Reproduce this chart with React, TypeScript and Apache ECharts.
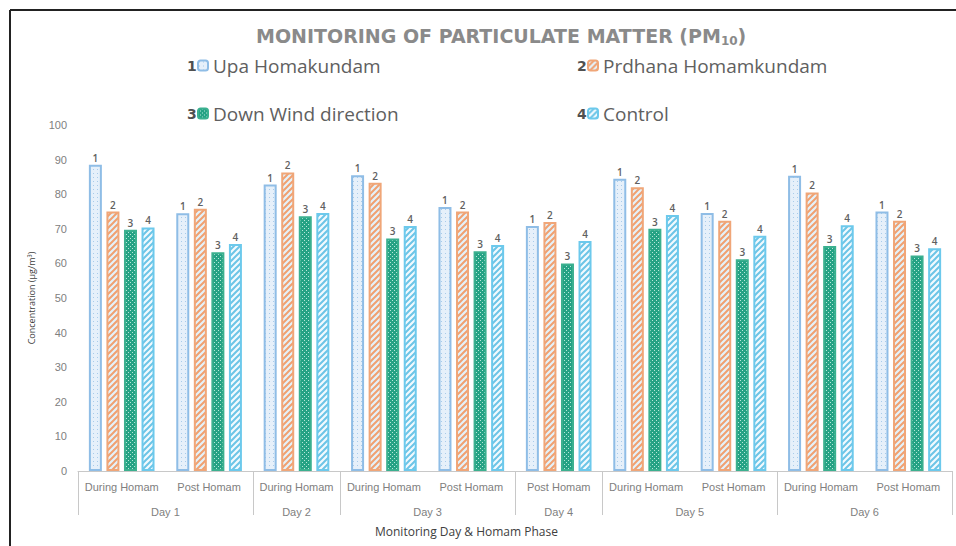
import React, { useEffect, useRef } from "react";
import * as echarts from "echarts";

const phases = [
  "During Homam", "Post Homam",
  "During Homam",
  "During Homam", "Post Homam",
  "Post Homam",
  "During Homam", "Post Homam",
  "During Homam", "Post Homam",
];
const days = ["Day 1", "Day 2", "Day 3", "Day 4", "Day 5", "Day 6"];
const daySizes = [2, 1, 2, 1, 2, 2];

const seriesNames = ["Upa Homakundam", "Prdhana Homamkundam", "Down Wind direction", "Control"];
const upa = [88.5, 74.5, 82.8, 85.5, 76.3, 70.8, 84.5, 74.6, 85.3, 75.0];
const prdhana = [75.0, 75.8, 86.3, 83.3, 75.0, 72.0, 82.0, 72.3, 80.5, 72.3];
const downWind = [69.7, 63.2, 73.6, 67.2, 63.5, 60.0, 70.0, 61.2, 65.0, 62.3];
const control = [70.4, 65.6, 74.6, 70.8, 65.3, 66.5, 74.0, 68.0, 71.0, 64.4];

const yTicks = { min: 0, max: 100, interval: 10 };

function makePattern(w: number, h: number, draw: (ctx: CanvasRenderingContext2D) => void) {
  const c = document.createElement("canvas");
  c.width = w;
  c.height = h;
  const ctx = c.getContext("2d")!;
  draw(ctx);
  return { image: c, repeat: "repeat", imageWidth: w, imageHeight: h } as any;
}

export default function App() {
  const ref = useRef<HTMLDivElement>(null);
  useEffect(() => {
    if (!ref.current) return;
    const chart = echarts.init(ref.current, null, { renderer: "svg" });

    const p1 = makePattern(4, 4, (ctx) => {
      ctx.fillStyle = "#e6f0fa";
      ctx.fillRect(0, 0, 4, 4);
      ctx.fillStyle = "#a8cbea";
      ctx.fillRect(1, 1, 1, 1);
    });
    const p2 = makePattern(6, 6, (ctx) => {
      ctx.fillStyle = "#e4f2fa";
      ctx.fillRect(0, 0, 6, 6);
      ctx.strokeStyle = "#f0a070";
      ctx.lineWidth = 2;
      ctx.beginPath();
      ctx.moveTo(-1, 7); ctx.lineTo(7, -1);
      ctx.moveTo(-1, 1); ctx.lineTo(1, -1);
      ctx.moveTo(5, 7); ctx.lineTo(7, 5);
      ctx.stroke();
    });
    const p3 = makePattern(4, 4, (ctx) => {
      ctx.fillStyle = "#25a284";
      ctx.fillRect(0, 0, 4, 4);
      ctx.fillStyle = "rgba(220,250,240,0.8)";
      ctx.fillRect(0, 0, 1, 1);
      ctx.fillRect(2, 2, 1, 1);
    });
    const p4 = makePattern(6, 6, (ctx) => {
      ctx.fillStyle = "#f2fafe";
      ctx.fillRect(0, 0, 6, 6);
      ctx.strokeStyle = "#6cc4e6";
      ctx.lineWidth = 2;
      ctx.beginPath();
      ctx.moveTo(-1, 7); ctx.lineTo(7, -1);
      ctx.moveTo(-1, 1); ctx.lineTo(1, -1);
      ctx.moveTo(5, 7); ctx.lineTo(7, 5);
      ctx.stroke();
    });

    const patterns = [p1, p2, p3, p4];
    const borders = ["#8fbde6", "#f0a678", "#3bb08f", "#6cc9ec"];
    const values = [upa, prdhana, downWind, control];

    const slots: string[] = new Array(phases.length * 2 + 1).fill("");
    const separators: number[] = [0];
    let pos = 0;
    daySizes.forEach((s, i) => {
      slots[pos + s] = days[i];
      pos += s * 2;
      separators.push(pos);
    });

    const option: any = {
      animation: false,
      backgroundColor: "#ffffff",
      title: {
        text: "{a|MONITORING OF PARTICULATE MATTER (PM}{b|10}{a|)}",
        left: 251,
        top: 20,
        textStyle: {
          rich: {
            a: { fontFamily: "DejaVu Sans", fontWeight: "bold", fontSize: 19, color: "#8a8a8a" },
            b: { fontFamily: "DejaVu Sans", fontWeight: "bold", fontSize: 12, color: "#8a8a8a", padding: [10, 0, 0, 0] },
          },
        },
      },
      legend: seriesNames.map((n, i) => ({
        data: [n],
        left: i % 2 === 0 ? 197 : 587,
        top: i < 2 ? 56 : 104,
        padding: 0,
        itemWidth: 10,
        itemHeight: 10,
        itemGap: 4,
        selectedMode: false,
        textStyle: { fontFamily: "Open Sans", fontSize: 19, color: "#606060" },
      })),
      graphic: [
        { type: "line", shape: { x1: 10, y1: 10, x2: 10, y2: 546 }, style: { stroke: "#222", lineWidth: 2 } },
        { type: "line", shape: { x1: 10, y1: 10, x2: 956, y2: 10 }, style: { stroke: "#222", lineWidth: 2 } },
        ...["1", "2", "3", "4"].map((t, i) => ({
          type: "text",
          left: i % 2 === 0 ? 187 : 577,
          top: i < 2 ? 59 : 107,
          style: { text: t, fontFamily: "DejaVu Sans", fontWeight: "bold", fontSize: 14, fill: "#505050" },
        })),
        {
          type: "text",
          left: 375,
          top: 525,
          style: { text: "Monitoring Day & Homam Phase", fontFamily: "Open Sans", fontSize: 12, fill: "#404040" },
        },
      ],
      grid: { left: 78, right: 4, top: 125, bottom: 75, containLabel: false },
      xAxis: [
        {
          type: "category",
          data: phases,
          axisLine: { lineStyle: { color: "#c8c8c8" } },
          axisTick: { show: false },
          axisLabel: { color: "#808080", fontSize: 11, fontFamily: "Liberation Sans", margin: 10, interval: 0 },
        },
        {
          type: "category",
          data: slots,
          boundaryGap: false,
          position: "bottom",
          axisLine: { show: false },
          axisTick: {
            show: true,
            length: 44,
            interval: (i: number) => separators.indexOf(i) >= 0,
            lineStyle: { color: "#c8c8c8" },
          },
          axisLabel: {
            color: "#808080",
            fontSize: 11,
            fontFamily: "Liberation Sans",
            margin: 35,
            interval: (i: number, v: string) => v !== "",
          },
        },
      ],
      yAxis: {
        type: "value",
        ...yTicks,
        name: "Concentration (µg/m³)",
        nameLocation: "middle",
        nameGap: 42,
        nameTextStyle: { fontSize: 9, color: "#404040", fontFamily: "Open Sans" },
        axisLine: { show: false },
        axisTick: { show: false },
        splitLine: { show: false },
        axisLabel: { color: "#808080", fontSize: 11, fontFamily: "Liberation Sans", margin: 11 },
      },
      series: seriesNames.map((n, i) => ({
        name: n,
        type: "bar",
        xAxisIndex: 0,
        data: values[i],
        barWidth: 13,
        barGap: "35%",
        itemStyle: { color: patterns[i], borderColor: borders[i], borderWidth: 2 },
        label: {
          show: true,
          position: "top",
          distance: 2,
          formatter: String(i + 1),
          color: "#606060",
          fontSize: 10,
          fontWeight: 600,
          fontFamily: "Open Sans",
        },
      })),
    };
    chart.setOption(option);
    return () => chart.dispose();
  }, []);
  return (
    <div
      ref={ref}
      style={{ position: "absolute", left: 0, top: 0, width: 956, height: 546, background: "#fff" }}
    />
  );
}
